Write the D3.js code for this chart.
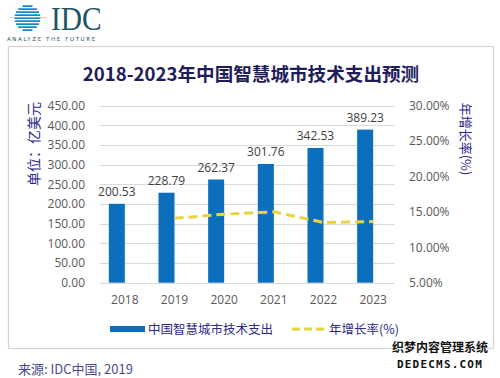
<!DOCTYPE html>
<html>
<head>
<meta charset="utf-8">
<script src="https://cdn.jsdelivr.net/npm/d3@7"></script>
<style>
  html, body { margin: 0; padding: 0; background: #fff; }
  svg text { font-family: "Noto Sans CJK SC", "Noto Sans", sans-serif; }
</style>
</head>
<body>
<div id="chart"></div>
<script>
var years = ['2018', '2019', '2020', '2021', '2022', '2023'];
var spend = [200.53, 228.79, 262.37, 301.76, 342.53, 389.23];
var growth = [null, 14.09, 14.68, 15.01, 13.51, 13.63];
var leftTicks = [0, 50, 100, 150, 200, 250, 300, 350, 400, 450];
var rightTicks = [5, 10, 15, 20, 25, 30];

var W = 500, H = 378;
var svg = d3.select('#chart').append('svg')
  .attr('width', W).attr('height', H);

svg.append('rect').attr('width', W).attr('height', H).attr('fill', '#fff');

// logo
var logo = svg.append('g');
var grad = svg.append('defs').append('linearGradient')
  .attr('id', 'globe').attr('x1', 0).attr('y1', 0).attr('x2', 0).attr('y2', 1);
grad.append('stop').attr('offset', '0%').attr('stop-color', '#5cc0ee');
grad.append('stop').attr('offset', '100%').attr('stop-color', '#0a6fb4');
var stripes = d3.range(9);
logo.selectAll('rect.stripe')
  .data(stripes)
  .enter().append('rect')
  .attr('x', function(d) { var dy = (d - 4) * 3; return 27.5 - Math.sqrt(Math.max(0, 169 - dy * dy)); })
  .attr('y', function(d) { return 5 + d * 3; })
  .attr('width', function(d) { var dy = (d - 4) * 3; return 2 * Math.sqrt(Math.max(0, 169 - dy * dy)); })
  .attr('height', 2)
  .attr('fill', 'url(#globe)');
logo.append('line').attr('x1', 10).attr('x2', 47).attr('y1', 17.5).attr('y2', 17.5)
  .attr('stroke', '#9fb8c8').attr('stroke-width', 0.6);
logo.append('text')
  .attr('transform', 'translate(51,30) scale(0.95,1.12)')
  .style('font-family', '"Liberation Serif", "DejaVu Serif", serif')
  .style('font-size', '31px')
  .attr('fill', '#1c5566')
  .text('IDC');
logo.append('text')
  .attr('x', 7).attr('y', 41)
  .style('font-family', '"DejaVu Sans", sans-serif')
  .style('font-size', '5.5px')
  .style('letter-spacing', '1.6px')
  .attr('fill', '#1c5566')
  .text('ANALYZE THE FUTURE');

// panel
svg.append('rect')
  .attr('x', 8.5).attr('y', 46.5).attr('width', 485).attr('height', 302)
  .attr('fill', '#fff').attr('stroke', '#d4d4d8').attr('stroke-width', 1.2);

svg.append('text')
  .attr('x', 251).attr('y', 81)
  .attr('text-anchor', 'middle')
  .style('font-size', '18.6px').style('font-weight', '700')
  .attr('fill', '#1f1c5c')
  .text('2018-2023年中国智慧城市技术支出预测');

var x0 = 100, x1 = 398, yTop = 105.7, yBot = 282.7;

var x = d3.scaleBand().domain(years).range([x0, x1]).padding(0);
var xs = d3.scaleBand().domain(['spend', 'rate']).range([0, x.bandwidth()])
  .paddingInner(0).paddingOuter(0.55);
var yL = d3.scaleLinear().domain([0, 450]).range([yBot, yTop]);
var yR = d3.scaleLinear().domain([5, 30]).range([yBot, yTop]);

// gridlines
svg.append('g').selectAll('line')
  .data(leftTicks)
  .enter().append('line')
  .attr('x1', x0).attr('x2', 395)
  .attr('y1', function(d) { return Math.round(yL(d)) + 0.5; })
  .attr('y2', function(d) { return Math.round(yL(d)) + 0.5; })
  .attr('stroke', '#d9d9d9').attr('stroke-width', 1);

// left axis
var axL = svg.append('g').attr('transform', 'translate(' + (x0 - 12) + ',0)')
  .call(d3.axisLeft(yL).tickValues(leftTicks).tickFormat(d3.format('.2f')).tickSize(0));
axL.select('.domain').remove();
axL.selectAll('text').style('font-size', '12px').attr('fill', '#595959')
  .style('font-family', '"Open Sans", "Noto Sans", sans-serif');

// right axis
var axR = svg.append('g').attr('transform', 'translate(409,0)')
  .call(d3.axisRight(yR).tickValues(rightTicks).tickFormat(function(d) { return d.toFixed(2) + '%'; }).tickSize(0));
axR.select('.domain').remove();
axR.selectAll('text').attr('x', 0).style('font-size', '12px').attr('fill', '#595959')
  .style('font-family', '"Open Sans", "Noto Sans", sans-serif');

// x axis
var axX = svg.append('g').attr('transform', 'translate(0,' + (yBot + 10) + ')')
  .call(d3.axisBottom(x).tickSize(0));
axX.select('.domain').remove();
axX.selectAll('text').style('font-size', '12px').attr('fill', '#595959')
  .style('font-family', '"Open Sans", "Noto Sans", sans-serif');

// axis titles
svg.append('text')
  .attr('transform', 'translate(39,144) rotate(-90)')
  .attr('text-anchor', 'middle')
  .style('font-size', '14px')
  .attr('fill', '#2d2a86')
  .text('单位：亿美元');
svg.append('text')
  .attr('transform', 'translate(461,139) rotate(90)')
  .attr('text-anchor', 'middle')
  .style('font-size', '13px')
  .attr('fill', '#2d2a86')
  .text('年增长率(%)');

// bars
svg.append('g').selectAll('rect')
  .data(spend)
  .enter().append('rect')
  .attr('x', function(d, i) { return x(years[i]) + xs('spend'); })
  .attr('y', function(d) { return yL(d); })
  .attr('width', xs.bandwidth())
  .attr('height', function(d) { return yBot - yL(d); })
  .attr('fill', '#0b6fbd');

svg.append('g').selectAll('text')
  .data(spend)
  .enter().append('text')
  .attr('x', function(d, i) { return x(years[i]) + xs('spend') + xs.bandwidth() / 2; })
  .attr('y', function(d) { return yL(d) - 8; })
  .attr('text-anchor', 'middle')
  .style('font-size', '12px')
  .style('font-family', '"Open Sans", "Noto Sans", sans-serif')
  .attr('fill', '#404040')
  .text(function(d) { return d.toFixed(2); });

// growth line
var pts = growth.map(function(g, i) { return [years[i], g]; }).filter(function(p) { return p[1] !== null; });
var line = d3.line()
  .x(function(p) { return x(p[0]) + x.bandwidth() / 2; })
  .y(function(p) { return yR(p[1]); });
svg.append('path')
  .datum(pts)
  .attr('d', line)
  .attr('fill', 'none')
  .attr('stroke', '#e8d53c')
  .attr('stroke-width', 3)
  .attr('stroke-dasharray', '9,5');

// legend
svg.append('rect').attr('x', 110).attr('y', 326).attr('width', 35).attr('height', 6).attr('fill', '#0b6fbd');
svg.append('text').attr('x', 148).attr('y', 334)
  .style('font-size', '12.5px').attr('fill', '#2d2a86')
  .text('中国智慧城市技术支出');
svg.append('line').attr('x1', 292).attr('x2', 327).attr('y1', 329).attr('y2', 329)
  .attr('stroke', '#e8d53c').attr('stroke-width', 3).attr('stroke-dasharray', '8,4');
svg.append('text').attr('x', 329).attr('y', 334)
  .style('font-size', '12.5px').attr('fill', '#2d2a86')
  .text('年增长率(%)');

// source
svg.append('text').attr('x', 18).attr('y', 374)
  .style('font-size', '13px').attr('fill', '#4b4a8f')
  .text('来源: IDC中国, 2019');

// watermark
svg.append('text').attr('x', 440).attr('y', 352)
  .attr('text-anchor', 'middle')
  .style('font-size', '12px').style('font-weight', '700')
  .attr('fill', '#111').attr('stroke', '#fff').attr('stroke-width', 2).attr('paint-order', 'stroke')
  .text('织梦内容管理系统');
svg.append('text').attr('x', 440).attr('y', 368)
  .attr('text-anchor', 'middle')
  .style('font-size', '11px').style('font-weight', '700')
  .style('font-family', '"DejaVu Sans Mono", monospace')
  .style('letter-spacing', '1.2px')
  .attr('fill', '#111').attr('stroke', '#fff').attr('stroke-width', 2).attr('paint-order', 'stroke')
  .text('DEDECMS.COM');
</script>
</body>
</html>
